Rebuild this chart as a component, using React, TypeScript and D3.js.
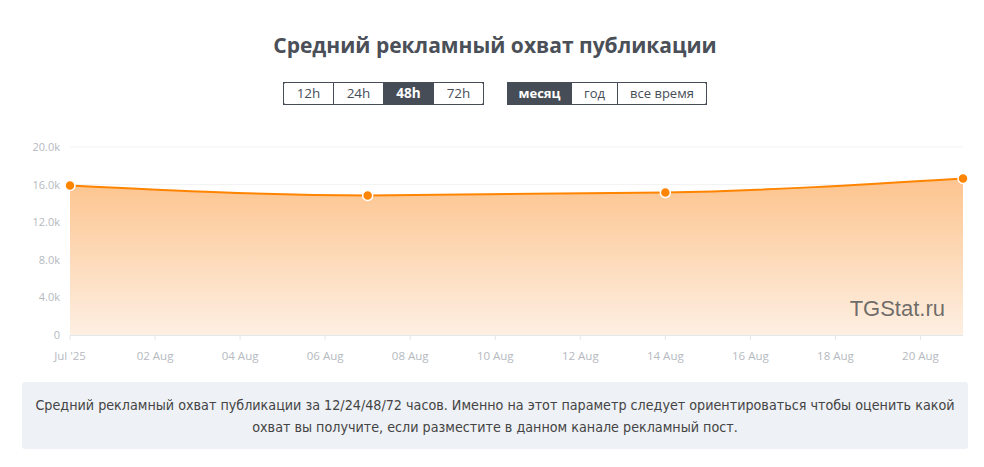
import React from "react";
import * as d3 from "d3";

const dates = ["2025-07-31", "2025-08-07", "2025-08-14", "2025-08-21"];
const reach = [15900, 14850, 15150, 16650];
const yTicks = [0, 4000, 8000, 12000, 16000, 20000];
const xTickDates = ["2025-07-31","2025-08-02","2025-08-04","2025-08-06","2025-08-08","2025-08-10","2025-08-12","2025-08-14","2025-08-16","2025-08-18","2025-08-20"];
const periodButtons = ["12h", "24h", "48h", "72h"];
const rangeButtons = ["месяц", "год", "все время"];

const W = 984, H = 467;
const FONT = "'Open Sans', 'Noto Sans', sans-serif";

export default function App() {
  const parse = d3.utcParse("%Y-%m-%d");
  const x = d3.scaleUtc().domain([parse("2025-07-31")!, parse("2025-08-21")!]).range([70, 963]);
  const y = d3.scaleLinear().domain([0, 20000]).range([335, 147]);
  const pts = dates.map((d, i) => ({ d: parse(d)!, v: reach[i] }));
  const line = d3.line<any>().x(p => x(p.d)).y(p => y(p.v)).curve(d3.curveMonotoneX);
  const area = d3.area<any>().x(p => x(p.d)).y0(y(0)).y1(p => y(p.v)).curve(d3.curveMonotoneX);
  const fmtY = (v: number) => (v === 0 ? "0" : (v / 1000).toFixed(1) + "k");
  const fmtX = (s: string, i: number) => (i === 0 ? "Jul '25" : d3.utcFormat("%d %b")(parse(s)!));

  const b1x = 283, bw = 50, by = 82, bh = 22;
  const g2 = [{ x: 507, w: 64 }, { x: 571, w: 46 }, { x: 617, w: 89 }];

  return (
    <svg width={W} height={H} style={{ position: "absolute", left: 0, top: 0, fontFamily: FONT }}>
      <defs>
        <linearGradient id="fillg" x1="0" y1="0" x2="0" y2="1">
          <stop offset="0" stopColor="#fdc48e" />
          <stop offset="1" stopColor="#fdefe2" />
        </linearGradient>
      </defs>
      <rect width={W} height={H} fill="#fff" />
      <text x={495} y={53} textAnchor="middle" fontSize={21} fontWeight={700} fill="#4a4f58">
        Средний рекламный охват публикации
      </text>
      <g>
        {periodButtons.map((b, i) => (
          <g key={b}>
            <rect x={b1x + i * bw + 0.5} y={by + 0.5} width={bw} height={bh} fill={i === 2 ? "#474d57" : "#fff"} stroke="#474d57" strokeWidth={1} />
            <text x={b1x + i * bw + bw / 2 + 0.5} y={by + 16} textAnchor="middle" fontSize={13.5} fill={i === 2 ? "#fff" : "#474d57"} fontWeight={i === 2 ? 700 : 400}>{b}</text>
          </g>
        ))}
        <rect x={b1x + 0.5} y={by + 0.5} width={bw * 4} height={bh} rx={2} fill="none" stroke="#474d57" />
      </g>
      <g>
        {g2.map((g, i) => (
          <g key={i}>
            <rect x={g.x + 0.5} y={by + 0.5} width={g.w} height={bh} fill={i === 0 ? "#474d57" : "#fff"} stroke="#474d57" />
            <text x={g.x + g.w / 2 + 0.5} y={by + 16} textAnchor="middle" fontSize={13} fill={i === 0 ? "#fff" : "#474d57"} fontWeight={i === 0 ? 700 : 400}>{rangeButtons[i]}</text>
          </g>
        ))}
        <rect x={507.5} y={by + 0.5} width={199} height={bh} rx={2} fill="none" stroke="#474d57" />
      </g>
      {yTicks.map(t => (
        <g key={t}>
          {t > 0 && <line x1={70} x2={963} y1={y(t)} y2={y(t)} stroke="#f2f2f2" />}
          <text x={60} y={y(t) + 4} textAnchor="end" fontSize={11} fill="#b5b9c0">{fmtY(t)}</text>
        </g>
      ))}
      <path d={area(pts)!} fill="url(#fillg)" />
      <line x1={70} x2={963} y1={y(0) + 0.5} y2={y(0) + 0.5} stroke="#e3e6ea" />
      {xTickDates.map((s, i) => (
        <g key={s}>
          <line x1={x(parse(s)!)} x2={x(parse(s)!)} y1={y(0)} y2={y(0) + 5} stroke="#e3e6ea" />
          <text x={x(parse(s)!)} y={360} textAnchor="middle" fontSize={11.5} fill="#b5b9c0">{fmtX(s, i)}</text>
        </g>
      ))}
      <path d={line(pts)!} fill="none" stroke="#ff8400" strokeWidth={2} />
      {pts.map((p, i) => (
        <circle key={i} cx={x(p.d)} cy={y(p.v)} r={5} fill="#ff8400" stroke="#fff" strokeWidth={1.5} />
      ))}
      <text x={945} y={316} textAnchor="end" fontSize={22} fill="#555" fillOpacity={0.85} fontFamily="'Liberation Sans', Arial, sans-serif">TGStat.ru</text>
      <rect x={22} y={382} width={946} height={67} rx={3} fill="#eef1f5" />
      <text x={495} y={410} textAnchor="middle" fontSize={14.2} fill="#444" fontFamily="'DejaVu Sans Condensed', 'Noto Sans', sans-serif">
        Средний рекламный охват публикации за 12/24/48/72 часов. Именно на этот параметр следует ориентироваться чтобы оценить какой
      </text>
      <text x={495} y={432} textAnchor="middle" fontSize={14.2} fill="#444" fontFamily="'DejaVu Sans Condensed', 'Noto Sans', sans-serif">
        охват вы получите, если разместите в данном канале рекламный пост.
      </text>
    </svg>
  );
}
